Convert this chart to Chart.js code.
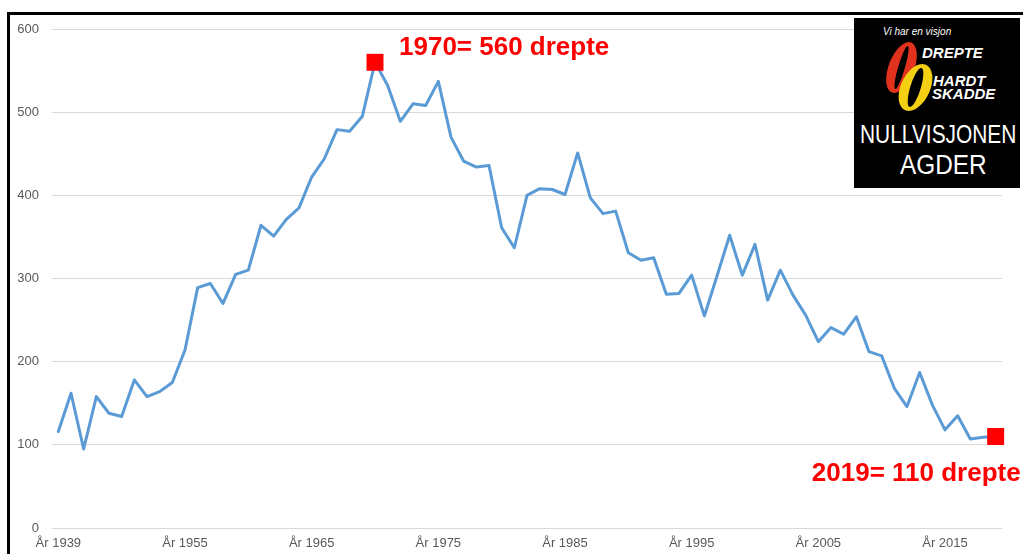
<!DOCTYPE html>
<html>
<head>
<meta charset="utf-8">
<script src="https://cdn.jsdelivr.net/npm/chart.js@4.4.1/dist/chart.umd.min.js"></script>
<style>
  html, body { margin: 0; padding: 0; background: #ffffff; }
  #wrap { position: relative; width: 1023px; height: 554px; overflow: hidden; background: #fff; }
  #c { position: absolute; left: 0; top: 0; }
  .bd { position: absolute; background: #000; }
  #logo { position: absolute; left: 854px; top: 18px; width: 166px; height: 170px; background: #000; }
  .lt { position: absolute; color: #fff; white-space: nowrap; line-height: 1; font-family: "Liberation Sans", Arial, sans-serif; transform-origin: 0 0; }
  .zero { position: absolute; border-style: solid; border-radius: 50%; box-sizing: border-box; }
</style>
</head>
<body>
<div id="wrap">
  <canvas id="c" width="1023" height="554"></canvas>
  <div class="bd" style="left:7px;top:12px;width:1016px;height:3px;"></div>
  <div class="bd" style="left:7px;top:12px;width:3px;height:542px;"></div>
  <div id="logo"></div>
  <div class="lt" style="left:883px;top:27px;font-size:10px;font-style:italic;">Vi har en visjon</div>
  <div class="zero" style="left:888px;top:42px;width:27px;height:51px;border-color:#e0321c;border-width:4px 10px;transform:skewX(-16deg);"></div>
  <div class="zero" style="left:900px;top:64px;width:31px;height:47px;border-color:#f5cf12;border-width:4px 10px;transform:skewX(-16deg);"></div>
  <div class="lt" style="left:922px;top:45px;font-size:15px;font-weight:bold;font-style:italic;">DREPTE</div>
  <div class="lt" style="left:933px;top:73px;font-size:15px;font-weight:bold;font-style:italic;">HARDT</div>
  <div class="lt" style="left:932px;top:86px;font-size:15px;font-weight:bold;font-style:italic;">SKADDE</div>
  <div class="lt" style="left:860px;top:122px;font-size:25px;transform:scaleX(0.836);">NULLVISJONEN</div>
  <div class="lt" style="left:900px;top:151px;font-size:28px;transform:scaleX(0.87);">AGDER</div>
</div>
<script>
// ---- data ----
const years = [1939,
  1946, 1947, 1948, 1949, 1950, 1951, 1952, 1953, 1954, 1955,
  1956, 1957, 1958, 1959, 1960, 1961, 1962, 1963, 1964, 1965,
  1966, 1967, 1968, 1969, 1970, 1971, 1972, 1973, 1974, 1975,
  1976, 1977, 1978, 1979, 1980, 1981, 1982, 1983, 1984, 1985,
  1986, 1987, 1988, 1989, 1990, 1991, 1992, 1993, 1994, 1995,
  1996, 1997, 1998, 1999, 2000, 2001, 2002, 2003, 2004, 2005,
  2006, 2007, 2008, 2009, 2010, 2011, 2012, 2013, 2014, 2015,
  2016, 2017, 2018, 2019];
const killed = [116,
  162, 95, 158, 138, 134, 178, 158, 164, 175, 214,
  289, 294, 270, 305, 310, 364, 351, 371, 385, 422,
  444, 479, 477, 495, 560, 532, 489, 510, 508, 537,
  470, 441, 434, 436, 361, 337, 400, 408, 407, 401,
  451, 397, 378, 381, 331, 322, 325, 281, 282, 304,
  255, 303, 352, 304, 341, 274, 310, 280, 256, 224,
  241, 233, 254, 212, 207, 168, 146, 187, 148, 118,
  135, 107, 109, 110];
const categoryLabels = years.map(y => 'År ' + y);
const yTicks = [0, 100, 200, 300, 400, 500, 600];
const markerYears = [1970, 2019];
const markerTexts = ['1970= 560 drepte', '2019= 110 drepte'];
const labelEvery = 10;

const markerData = years.map((y, i) => markerYears.includes(y) ? killed[i] : null);

const annotationPlugin = {
  id: 'annot',
  afterDatasetsDraw(chart) {
    const meta = chart.getDatasetMeta(1);
    const ctx = chart.ctx;
    ctx.save();
    ctx.fillStyle = '#ff0000';
    ctx.font = 'bold 26px "Liberation Sans", Arial, sans-serif';
    ctx.textBaseline = 'alphabetic';
    markerYears.forEach((yr, k) => {
      const idx = years.indexOf(yr);
      const p = meta.data[idx];
      if (!p) return;
      if (k === 0) {
        ctx.textAlign = 'left';
        ctx.fillText(markerTexts[k], p.x + 24, p.y - 7);
      } else {
        ctx.textAlign = 'right';
        ctx.fillText(markerTexts[k], p.x + 25, p.y + 44);
      }
    });
    ctx.restore();
  }
};

new Chart(document.getElementById('c'), {
  type: 'line',
  data: {
    labels: categoryLabels,
    datasets: [
      {
        data: killed,
        borderColor: '#5b9bd5',
        backgroundColor: '#5b9bd5',
        borderWidth: 3,
        pointRadius: 0,
        tension: 0,
        borderJoinStyle: 'round',
        borderCapStyle: 'round',
        order: 1
      },
      {
        data: markerData,
        showLine: false,
        pointStyle: 'rect',
        pointRadius: 12,
        pointBackgroundColor: '#ff0000',
        pointBorderWidth: 0,
        order: 0
      }
    ]
  },
  options: {
    responsive: false,
    animation: false,
    devicePixelRatio: 1,
    layout: { padding: { top: 29, right: 21, bottom: 0, left: 0 } },
    plugins: { legend: { display: false }, tooltip: { enabled: false } },
    scales: {
      x: {
        type: 'category',
        offset: true,
        grid: { display: false, drawTicks: false },
        border: { display: false },
        afterFit(s) { s.height = 26; },
        ticks: {
          autoSkip: false,
          maxRotation: 0,
          padding: 8,
          color: '#595959',
          font: { family: '"Liberation Sans", Arial, sans-serif', size: 13 },
          callback(v, i) { return i % labelEvery === 0 ? categoryLabels[i] : ''; }
        }
      },
      y: {
        min: 0,
        max: 600,
        afterFit(s) { s.width = 52; },
        afterBuildTicks(s) { s.ticks = yTicks.map(v => ({ value: v })); },
        grid: { color: '#d9d9d9', lineWidth: 1, drawTicks: false },
        border: { display: false },
        ticks: {
          padding: 13,
          color: '#595959',
          font: { family: '"Liberation Sans", Arial, sans-serif', size: 13 }
        }
      }
    }
  },
  plugins: [annotationPlugin]
});
</script>
</body>
</html>
